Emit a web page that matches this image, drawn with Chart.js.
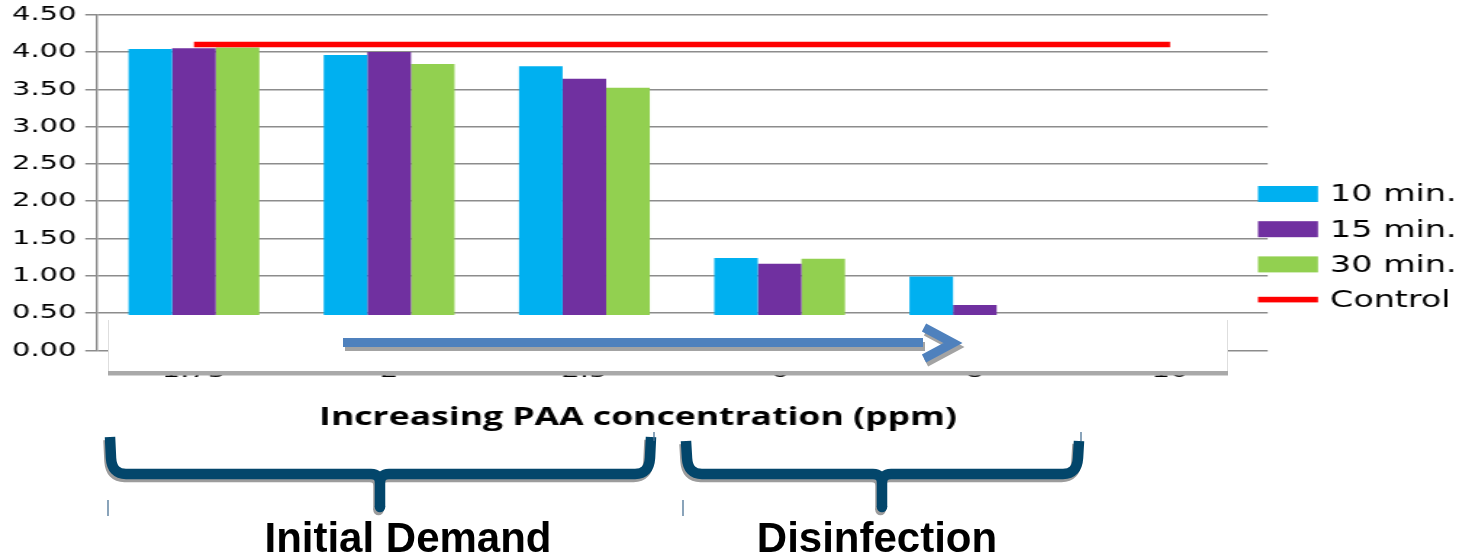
<!DOCTYPE html>
<html>
<head>
<meta charset="utf-8">
<title>PAA concentration</title>
<script src="https://cdn.jsdelivr.net/npm/chart.js@4"></script>
<style>
  html, body { margin: 0; padding: 0; background: #fff; }
  #wrap { position: relative; width: 1472px; height: 557px; overflow: hidden; }
  #chart { position: absolute; left: 0; top: 0; }
  #notes { position: absolute; left: 0; top: 0; pointer-events: none; }
</style>
</head>
<body>
<div id="wrap">
  <!-- the chart is rendered narrow and shown widened, giving its wide lettering -->
  <canvas id="chart" width="1015" height="557" style="width:1472px;height:557px"></canvas>
  <canvas id="notes" width="1472" height="557"></canvas>
</div>
<script>
// ---- data ----
const categories = ['1.75', '2', '2.5', '6', '8', '10'];
const tenMin     = [4.04, 3.96, 3.81, 1.24, 0.99, null];
const fifteenMin = [4.05, 4.00, 3.64, 1.16, 0.61, null];
const thirtyMin  = [4.06, 3.84, 3.52, 1.23, null, null];
const control    = [4.10, 4.10, 4.10, 4.10, 4.10, 4.10];
const yTickLabels = ['0.00', '0.50', '1.00', '1.50', '2.00', '2.50', '3.00', '3.50', '4.00', '4.50'];
const seriesNames = ['10 min.', '15 min.', '30 min.', 'Control'];
const xAxisTitle = 'Increasing PAA concentration (ppm)';
const phaseLabels = ['Initial Demand', 'Disinfection'];

// ---- layout (page pixels) ----
const CANVAS_W = 1015, CANVAS_H = 557;
const SX = 1472 / CANVAS_W;                  // horizontal widening of the chart canvas
const cx = x => x / SX;                      // page x -> chart canvas x
const PLOT_LEFT = 96.3, PLOT_RIGHT = 1267.7, PLOT_TOP = 14.7, PLOT_BOTTOM = 350.4;
const XAXIS_H = 30;

// legend at the right and the category axis title
const legendAndTitle = {
  id: 'legendAndTitle',
  afterDraw(chart) {
    const ctx = chart.ctx;
    ctx.save();
    const firstRow = 194, rowGap = 35.2;
    const bx = cx(1258), bw = cx(1318) - cx(1258);
    chart.data.datasets.forEach((ds, i) => {
      const y = firstRow + i * rowGap;
      if (ds.type === 'line') {
        ctx.fillStyle = ds.borderColor;
        ctx.fillRect(bx, y - 2.8, bw, 5.6);
      } else {
        ctx.fillStyle = ds.backgroundColor;
        ctx.fillRect(bx, y - 8, bw, 16);
      }
      ctx.fillStyle = '#000';
      ctx.font = '23px "DejaVu Sans"';
      ctx.textAlign = 'left';
      ctx.textBaseline = 'middle';
      ctx.fillText(ds.label, cx(1330), y + 1.5);
    });
    ctx.font = 'bold 24.5px "Open Sans"';
    ctx.textAlign = 'center';
    ctx.textBaseline = 'alphabetic';
    ctx.fillStyle = '#000';
    ctx.fillText(xAxisTitle, cx(638), 425);
    ctx.restore();
  }
};

new Chart(document.getElementById('chart'), {
  data: {
    labels: categories,
    datasets: [
      { type: 'bar', label: seriesNames[0], data: tenMin,     backgroundColor: '#00b0f0', order: 1 },
      { type: 'bar', label: seriesNames[1], data: fifteenMin, backgroundColor: '#7030a0', order: 1 },
      { type: 'bar', label: seriesNames[2], data: thirtyMin,  backgroundColor: '#92d050', order: 1 },
      { type: 'line', label: seriesNames[3], data: control, borderColor: '#ff0000', backgroundColor: '#ff0000',
        borderWidth: 5.5, pointRadius: 0, borderCapStyle: 'butt', order: 0 }
    ]
  },
  options: {
    responsive: false,
    devicePixelRatio: 1,
    animation: false,
    layout: {
      padding: { left: 0, top: PLOT_TOP, right: CANVAS_W - cx(PLOT_RIGHT), bottom: CANVAS_H - PLOT_BOTTOM - XAXIS_H }
    },
    datasets: { bar: { categoryPercentage: 0.67, barPercentage: 1.0 } },
    scales: {
      x: {
        grid: { display: false, drawTicks: false },
        border: { display: false },
        ticks: { padding: 9.5, color: '#000', font: { family: 'DejaVu Sans', size: 20 }, maxRotation: 0, autoSkip: false },
        afterFit: s => { s.height = XAXIS_H; }
      },
      y: {
        min: 0, max: 4.5,
        ticks: { stepSize: 0.5, padding: 6, color: '#000', font: { family: 'DejaVu Sans', size: 20, lineHeight: 0.8 },
                 callback: (v, i) => yTickLabels[i] },
        grid: { color: '#8c8c8c', lineWidth: 1.5, tickLength: 7.6 },
        border: { display: true, color: '#8c8c8c', width: 1.4 },
        afterFit: s => { s.width = cx(PLOT_LEFT); }
      }
    },
    plugins: { legend: { display: false }, tooltip: { enabled: false } }
  },
  plugins: [legendAndTitle]
});

// ---- annotation layer: axis panel with arrow, braces and phase names ----
const n = document.getElementById('notes').getContext('2d');

// white panel over the lower axis, with a soft shadow underneath
n.fillStyle = '#a9a9a9';
n.fillRect(108, 371, 1120, 4.5);
n.fillStyle = '#ffffff';
n.fillRect(108, 315, 1120, 56);
n.strokeStyle = '#dedede';
n.lineWidth = 1;
n.beginPath();
n.moveTo(108.5, 320); n.lineTo(108.5, 371);
n.moveTo(1227.5, 320); n.lineTo(1227.5, 371);
n.stroke();

function drawArrow(dx, dy, color) {
  n.strokeStyle = color;
  n.lineWidth = 9;
  n.lineCap = 'butt';
  n.lineJoin = 'miter';
  n.beginPath();
  n.moveTo(343 + dx, 342.5 + dy);
  n.lineTo(923 + dx, 342.5 + dy);
  n.stroke();
  n.beginPath();
  n.moveTo(924 + dx, 327.5 + dy);
  n.lineTo(953 + dx, 343 + dy);
  n.lineTo(924 + dx, 358.5 + dy);
  n.stroke();
}
drawArrow(2, 4, '#a3a3a3');
drawArrow(0, 0, '#4f81bd');

function drawBrace(xl, xr, xm, top, bar, bottom, dx, dy, color) {
  const r = 16, rm = 9;
  n.strokeStyle = color;
  n.fillStyle = color;
  n.lineWidth = 10.5;
  n.lineCap = 'butt';
  n.lineJoin = 'round';
  n.beginPath();
  n.moveTo(xl + dx, top + dy);
  n.lineTo(xl + 1 + dx, bar - r + dy);
  n.quadraticCurveTo(xl + 2 + dx, bar + dy, xl + r + dx, bar + dy);
  n.lineTo(xm - rm + dx, bar + dy);
  n.quadraticCurveTo(xm + dx, bar + dy, xm + dx, bar + rm + dy);
  n.lineTo(xm + dx, bottom + dy);
  n.moveTo(xr + dx, top + dy);
  n.lineTo(xr - 1 + dx, bar - r + dy);
  n.quadraticCurveTo(xr - 2 + dx, bar + dy, xr - r + dx, bar + dy);
  n.lineTo(xm + rm + dx, bar + dy);
  n.quadraticCurveTo(xm + dx, bar + dy, xm + dx, bar + rm + dy);
  n.stroke();
  n.beginPath();
  n.arc(xm + dx, bottom + dy, 5.25, 0, Math.PI * 2);
  n.fill();
}
const braces = [
  { xl: 110, xr: 651, xm: 380, top: 437, bar: 474, bottom: 507 },
  { xl: 686, xr: 1079, xm: 882, top: 441, bar: 474, bottom: 507 }
];
braces.forEach(b => drawBrace(b.xl, b.xr, b.xm, b.top, b.bar, b.bottom, -1.5, 3, '#9c9c9c'));
braces.forEach(b => drawBrace(b.xl, b.xr, b.xm, b.top, b.bar, b.bottom, 0, 0, '#03466b'));

// small guide marks around the braces
n.strokeStyle = '#4c7396';
n.lineWidth = 1.3;
n.beginPath();
n.moveTo(108, 500); n.lineTo(108, 516);
n.moveTo(683, 500); n.lineTo(683, 516);
n.moveTo(654, 432); n.lineTo(654, 441);
n.moveTo(1081, 432); n.lineTo(1081, 441);
n.stroke();

// phase names
n.fillStyle = '#000';
n.font = 'bold 42px "Liberation Sans", Arial, sans-serif';
n.textAlign = 'center';
n.textBaseline = 'alphabetic';
n.fillText(phaseLabels[0], 408, 552);
n.fillText(phaseLabels[1], 877, 552);
</script>
</body>
</html>
